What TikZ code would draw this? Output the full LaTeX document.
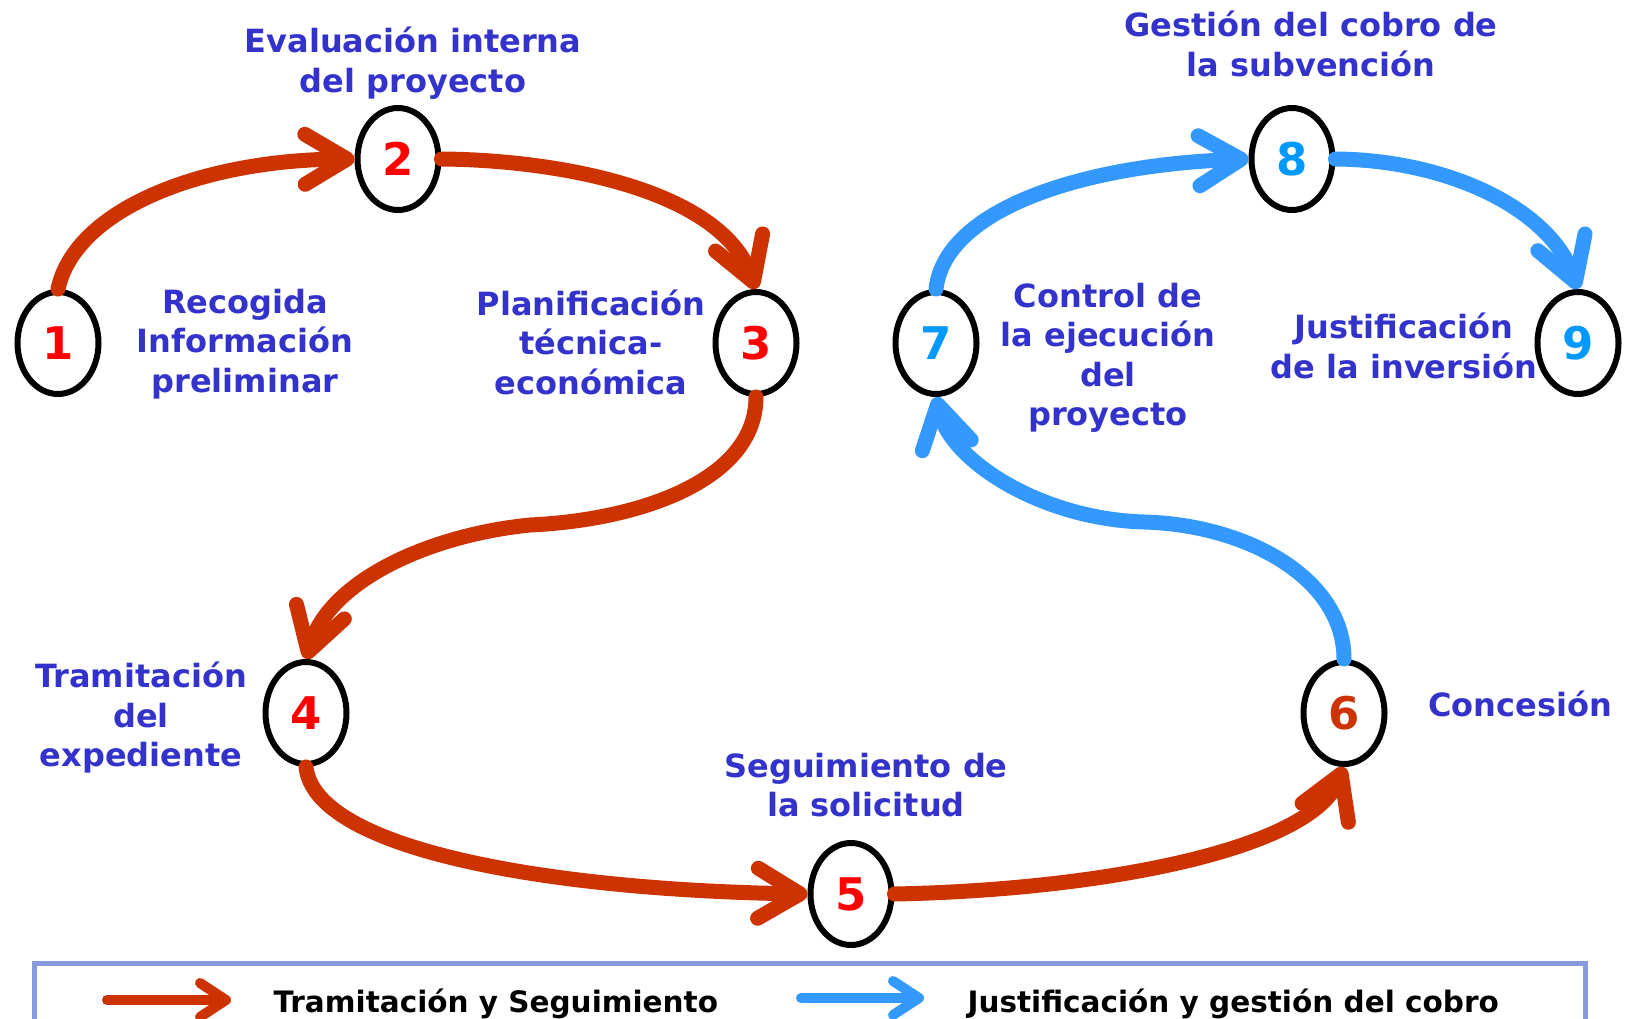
\documentclass[tikz,border=0pt]{standalone}
\usepackage{fontspec}
\setmainfont{DejaVu Sans}
\usetikzlibrary{arrows.meta,shapes.geometric,positioning}
\definecolor{tramite}{RGB}{204,51,0}
\definecolor{cobro}{RGB}{51,153,255}
\definecolor{textoazul}{RGB}{51,51,204}
\definecolor{numrojo}{RGB}{255,0,0}
\definecolor{numazul}{RGB}{0,153,255}
\definecolor{marco}{RGB}{136,153,221}
\tikzset{
	paso/.style={ellipse, draw=black, line width=6pt, minimum width=81pt, minimum height=102pt, inner sep=0pt, font=\fontsize{45}{45}\selectfont\bfseries},
	rotulo/.style={text=textoazul, align=center, font=\fontsize{32}{39.5}\selectfont\bfseries},
	flecha/.style={line width=15pt, line cap=round, -{Straight Barb[length=42pt, width=50pt, round]}},
	rojo/.style={flecha, draw=tramite},
	azul/.style={flecha, draw=cobro},
	leyenda/.style={anchor=base west, font=\fontsize{29.5}{30}\selectfont\bfseries},
}

\begin{document}
\begin{tikzpicture}[x=1pt, y=-1pt]
	\useasboundingbox (0,0) rectangle (1631,1019);
	\clip (0,0) rectangle (1631,1019);

	\node[paso, text=numrojo] (n1) at (58,343) {1};
	\node[paso, text=numrojo] (n2) at (398,159) {2};
	\node[paso, text=numrojo] (n3) at (756,343) {3};
	\node[paso, text=numrojo] (n4) at (306,713) {4};
	\node[paso, text=numrojo] (n5) at (851,894) {5};
	\node[paso, text=tramite] (n6) at (1344,713) {6};
	\node[paso, text=numazul] (n7) at (936,343) {7};
	\node[paso, text=numazul] (n8) at (1292,159) {8};
	\node[paso, text=numazul] (n9) at (1578,343) {9};

	\node[rotulo] (t1) at (245,344) {Recogida\\Información\\preliminar};
	\node[rotulo] (t2) at (413,63) {Evaluación interna\\del proyecto};
	\node[rotulo] (t3) at (591,342) {Planificación\\técnica-\\económica};
	\node[rotulo] (t4) at (141,718) {Tramitación\\del\\expediente};
	\node[rotulo] (t5) at (866,785) {Seguimiento de\\la solicitud};
	\node[rotulo] (t6) at (1520,704) {Concesión};
	\node[rotulo] (t7) at (1108,358) {Control de\\la ejecución\\del\\proyecto};
	\node[rotulo] (t8) at (1311,44) {Gestión del cobro de\\la subvención};
	\node[rotulo] (t9) at (1404,346) {Justificación\\de la inversión};

	\coordinate (m34) at (530,525);
	\coordinate (m67) at (1144,522);

	\draw[rojo] (n1.north) .. controls (75,210) and (200,160) .. (n2.west);
	\draw[rojo] (n2.east) .. controls (560,160) and (720,190) .. (n3.north);
	\draw[rojo] (n3.south) .. controls (756,480) and (640,520) .. (m34)
		.. controls (430,535) and (330,580) .. (n4.north);
	\draw[rojo] (n4.south) .. controls (315,850) and (550,890) .. (n5.west);
	\draw[rojo] (n5.east) .. controls (1100,890) and (1310,850) .. (n6.south);
	\draw[azul] (n6.north) .. controls (1344,580) and (1250,525) .. (m67)
		.. controls (1040,519) and (950,460) .. (n7.south);
	\draw[azul] (n7.north) .. controls (945,210) and (1080,165) .. (n8.west);
	\draw[azul] (n8.east) .. controls (1450,160) and (1550,210) .. (n9.north);

	\draw[marco, line width=5pt] (34,963) rectangle (1585,1060);
	\coordinate (r0) at (107,1000);
	\coordinate (r1) at (231,1000);
	\coordinate (b0) at (801,998);
	\coordinate (b1) at (924,998);
	\draw[rojo, line width=10pt, -{Straight Barb[length=26pt, width=34pt, round]}] (r0) -- (r1);
	\draw[azul, line width=10pt, -{Straight Barb[length=26pt, width=34pt, round]}] (b0) -- (b1);
	\node[leyenda] (l1) at (270,1012) {Tramitación y Seguimiento};
	\node[leyenda] (l2) at (964,1012) {Justificación y gestión del cobro};
\end{tikzpicture}
\end{document}
